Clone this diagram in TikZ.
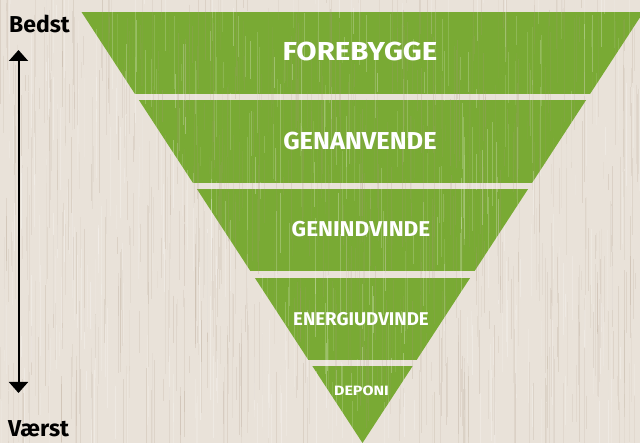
\documentclass[tikz,border=0pt]{standalone}
\usepackage{fontspec}
\setmainfont{Fira Sans}
\usetikzlibrary{arrows.meta}

\definecolor{wood}{RGB}{233,226,217}
\definecolor{grainbrown}{RGB}{170,150,130}
\definecolor{leaf}{RGB}{121,170,52}

\newcommand{\tiertext}[3]{\fontsize{#1}{#1}\selectfont\scalebox{#2}[1]{#3}}

\tikzset{
  grain/.style={line width=0.45pt},
  tierlabel/.style={text=white,font=\bfseries,anchor=base,inner sep=0pt},
  endlabel/.style={text=black,font=\bfseries\fontsize{23}{23}\selectfont,anchor=base west,inner sep=0pt}
}

\begin{document}
\begin{tikzpicture}[x=1pt,y=-1pt]
\useasboundingbox (0,0) rectangle (640,443);
\fill[wood] (0,0) rectangle (640,443);

% the five tiers, cut out of one triangle
\begin{scope}
\clip (81.5,12) -- (643.5,12) -- (362.5,443) -- cycle;
\foreach \ytop/\ybot in {12/94,100/183,189/271,278/360,366/443}
  \fill[leaf] (0,\ytop) rectangle (640,\ybot);
\end{scope}

% wood grain
\pgfmathsetseed{11}
\foreach \i in {1,...,700}{
  \pgfmathsetmacro\gx{rnd*640}
  \pgfmathsetmacro\gy{rnd*443-40}
  \pgfmathsetmacro\gl{15+rnd*110}
  \pgfmathsetmacro\op{0.06+rnd*0.16}
  \draw[grain,grainbrown,opacity=\op] (\gx,\gy) -- ++(0,\gl);
}
\foreach \i in {1,...,400}{
  \pgfmathsetmacro\gx{rnd*640}
  \pgfmathsetmacro\gy{rnd*443-40}
  \pgfmathsetmacro\gl{15+rnd*90}
  \pgfmathsetmacro\op{0.08+rnd*0.2}
  \draw[grain,white,opacity=\op] (\gx,\gy) -- ++(0,\gl);
}

\node[tierlabel] (forebygge) at (360,61) {\tiertext{26}{1.13}{FOREBYGGE}};
\node[tierlabel] (genanvende) at (360,150) {\tiertext{24.5}{1.04}{GENANVENDE}};
\node[tierlabel] (genindvinde) at (361,237) {\tiertext{21.5}{1.05}{GENINDVINDE}};
\node[tierlabel] (energiudvinde) at (361,326) {\tiertext{18.5}{1.01}{ENERGIUDVINDE}};
\node[tierlabel] (deponi) at (361.5,396) {\tiertext{13.5}{1.18}{DEPONI}};

\node[endlabel] (bedst) at (9,33) {Bedst};
\node[endlabel] (vaerst) at (8,437) {Værst};

\coordinate (top) at (18.5,50);
\coordinate (bottom) at (18.5,393);
\draw[line width=2pt,{Triangle[width=19pt,length=11pt]}-{Triangle[width=19pt,length=11pt]}] (top) -- (bottom);
\end{tikzpicture}
\end{document}
